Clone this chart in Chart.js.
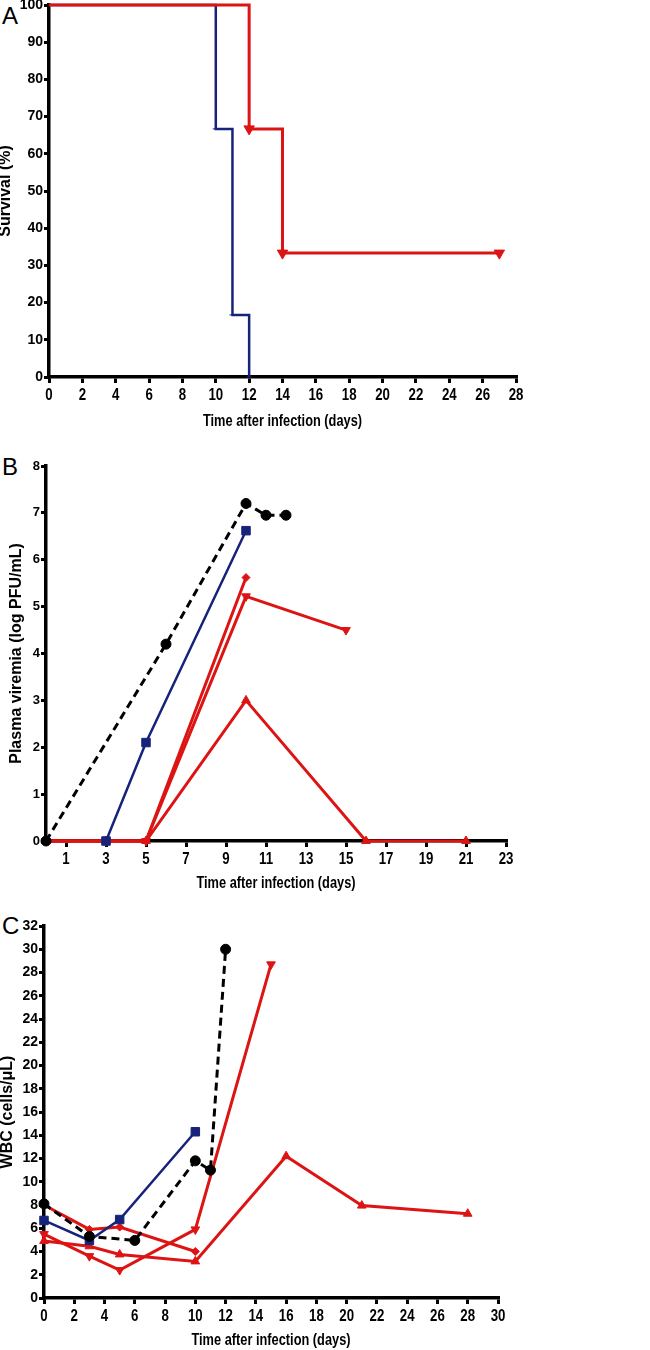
<!DOCTYPE html>
<html>
<head>
<meta charset="utf-8">
<script src="https://cdn.jsdelivr.net/npm/chart.js@4.4.1/dist/chart.umd.min.js"></script>
<style>
  body { margin: 0; background: #fff; width: 650px; height: 1350px; position: relative; overflow: hidden; }
  canvas { position: absolute; left: 0; }
  .letter { position: absolute; left: 2px; font: 24px "Liberation Sans", Arial, sans-serif; line-height: 24px; color: #000; }
</style>
</head>
<body>
<div class="letter" style="top:4px">A</div>
<div class="letter" style="top:455px">B</div>
<div class="letter" style="top:914px">C</div>
<canvas id="chartA" width="650" height="441" style="top:-10px"></canvas>
<canvas id="chartB" width="650" height="453" style="top:440px"></canvas>
<canvas id="chartC" width="650" height="450" style="top:900px"></canvas>
<script>
// Panel A - survival
const survBlueDays = [0, 10, 11, 12];
const survBlue = [100, 66.7, 16.7, 0];
const survRedDays = [0, 12, 14, 27];
const survRed = [100, 66.7, 33.3, 33.3];

// Panel B - plasma viremia
const viremiaTicksX = [1, 3, 5, 7, 9, 11, 13, 15, 17, 19, 21, 23];
const virBlackDays = [0, 6, 10, 11, 12];
const virBlack = [0, 4.2, 7.2, 6.95, 6.95];
const virBlueDays = [3, 5, 10];
const virBlue = [0, 2.1, 6.62];
const virRedDiamondDays = [0, 3, 5, 10];
const virRedDiamond = [0, 0, 0, 5.62];
const virRedDownDays = [0, 3, 5, 10, 15];
const virRedDown = [0, 0, 0, 5.22, 4.5];
const virRedUpDays = [0, 3, 5, 10, 16, 21];
const virRedUp = [0, 0, 0, 3.0, 0, 0];

// Panel C - WBC
const wbcBlackDays = [0, 3, 6, 10, 11, 12];
const wbcBlack = [8.1, 5.3, 4.95, 11.8, 11.0, 30.0];
const wbcBlueDays = [0, 3, 5, 10];
const wbcBlue = [6.67, 4.95, 6.75, 14.3];
const wbcRedDiamondDays = [0, 3, 5, 10];
const wbcRedDiamond = [8.0, 5.9, 6.1, 4.0];
const wbcRedDownDays = [0, 3, 5, 10, 15];
const wbcRedDown = [5.5, 3.6, 2.4, 5.9, 28.7];
const wbcRedUpDays = [0, 3, 5, 10, 16, 21, 28];
const wbcRedUp = [4.9, 4.45, 3.75, 3.15, 12.2, 7.95, 7.25];

const xTitle = 'Time after infection (days)';

const RED = '#dd1414';
const BLUE = '#17237a';
const FONT = '"Liberation Sans", Arial, sans-serif';

const pts = (xs, ys) => xs.map((x, i) => ({ x: x, y: ys[i] }));

function squashed(ctx, text, x, y, k) {
    ctx.save();
    ctx.translate(x, y);
    ctx.scale(k, 1);
    ctx.fillText(text, 0, 0);
    ctx.restore();
}

// x axis text in the original is a condensed face, so the labels are drawn narrowed here
const condensedX = {
    id: 'condensedX',
    afterDraw: chart => {
        const s = chart.scales.x;
        const ctx = chart.ctx;
        ctx.save();
        ctx.fillStyle = '#000';
        ctx.textAlign = 'center';
        ctx.textBaseline = 'alphabetic';
        ctx.font = 'bold 17px ' + FONT;
        s.ticks.forEach(t => squashed(ctx, String(t.value), s.getPixelForValue(t.value), s.top + 23, 0.78));
        ctx.font = 'bold 16px ' + FONT;
        ctx.textBaseline = 'middle';
        squashed(ctx, xTitle, (s.left + s.right) / 2, s.bottom - 9.6, 0.8);
        ctx.restore();
    }
};

function line(xs, ys, color, style, extra) {
    return Object.assign({
        data: pts(xs, ys),
        borderColor: color,
        backgroundColor: color,
        borderWidth: 3,
        pointStyle: style,
        pointRadius: 5,
        pointBorderWidth: 1,
        pointBorderColor: color,
        pointBackgroundColor: color,
        clip: false,
        tension: 0
    }, extra || {});
}

function options(p) {
    return {
        responsive: false,
        animation: false,
        events: [],
        layout: { padding: { top: p.top, right: 650 - p.right, left: 0, bottom: 0 } },
        plugins: { legend: { display: false }, tooltip: { enabled: false } },
        scales: {
            x: {
                type: 'linear', min: p.xMin, max: p.xMax, z: 1,
                border: { display: true, color: '#000', width: 3.5 },
                grid: { display: true, drawOnChartArea: false, drawTicks: true, tickLength: 6, color: '#000', lineWidth: 3 },
                ticks: { display: false, stepSize: p.xStep, autoSkip: false, maxRotation: 0 },
                afterBuildTicks: p.xTicks ? (s => { s.ticks = p.xTicks.map(v => ({ value: v })); }) : undefined,
                title: { display: false },
                afterFit: s => { s.height = p.xHeight; }
            },
            y: {
                type: 'linear', min: p.yMin, max: p.yMax, z: 0,
                border: { display: true, color: '#000', width: 3.5 },
                grid: { display: true, drawOnChartArea: false, drawTicks: true, tickLength: 5, color: '#000', lineWidth: 3 },
                ticks: {
                    stepSize: p.yStep, autoSkip: false, color: '#000', padding: 1,
                    font: { family: FONT, size: p.yTickSize, weight: 'bold' }
                },
                title: {
                    display: true, text: p.yTitle, color: '#000',
                    font: { family: FONT, size: 16, weight: 'bold', lineHeight: 1 },
                    padding: { top: p.yTitlePad, bottom: 0 }
                },
                afterFit: s => { s.width = p.left; }
            }
        }
    };
}

const noFirst = r => c => c.dataIndex === 0 ? 0 : r;

new Chart(document.getElementById('chartA'), {
    type: 'line',
    data: {
        datasets: [
            line(survRedDays, survRed, RED, 'triangle', { stepped: 'before', pointRadius: noFirst(6), rotation: 180 }),
            line(survBlueDays, survBlue, BLUE, 'line', { stepped: 'before', borderWidth: 2.5, pointRadius: noFirst(3) })
        ]
    },
    options: options({ top: 15, left: 49, right: 516, xHeight: 54, xMin: 0, xMax: 28, xStep: 2,
        yMin: 0, yMax: 100, yStep: 10, yTickSize: 14, yTitle: 'Survival (%)', yTitlePad: -2 }),
    plugins: [condensedX]
});

new Chart(document.getElementById('chartB'), {
    type: 'line',
    data: {
        datasets: [
            line(virBlackDays, virBlack, '#000', 'circle', { borderDash: [8, 5], pointRadius: 5 }),
            line(virBlueDays, virBlue, BLUE, 'rect', { borderWidth: 2.5, pointRadius: 6 }),
            line(virRedDiamondDays, virRedDiamond, RED, 'rectRot', { pointRadius: 4 }),
            line(virRedDownDays, virRedDown, RED, 'triangle', { rotation: 180 }),
            line(virRedUpDays, virRedUp, RED, 'triangle')
        ]
    },
    options: options({ top: 26, left: 46, right: 506, xHeight: 52, xMin: 0, xMax: 23, xTicks: viremiaTicksX,
        yMin: 0, yMax: 8, yStep: 1, yTickSize: 13, yTitle: 'Plasma viremia (log PFU/mL)', yTitlePad: 9 }),
    plugins: [condensedX]
});

new Chart(document.getElementById('chartC'), {
    type: 'line',
    data: {
        datasets: [
            line(wbcBlackDays, wbcBlack, '#000', 'circle', { borderDash: [8, 5], pointRadius: 5 }),
            line(wbcBlueDays, wbcBlue, BLUE, 'rect', { borderWidth: 2.5, pointRadius: 6 }),
            line(wbcRedDiamondDays, wbcRedDiamond, RED, 'rectRot', { pointRadius: 4 }),
            line(wbcRedDownDays, wbcRedDown, RED, 'triangle', { rotation: 180 }),
            line(wbcRedUpDays, wbcRedUp, RED, 'triangle')
        ]
    },
    options: options({ top: 26, left: 44, right: 498, xHeight: 52, xMin: 0, xMax: 30, xStep: 2,
        yMin: 0, yMax: 32, yStep: 2, yTickSize: 14, yTitle: 'WBC (cells/\u03bcL)', yTitlePad: 0 }),
    plugins: [condensedX]
});
</script>
</body>
</html>
